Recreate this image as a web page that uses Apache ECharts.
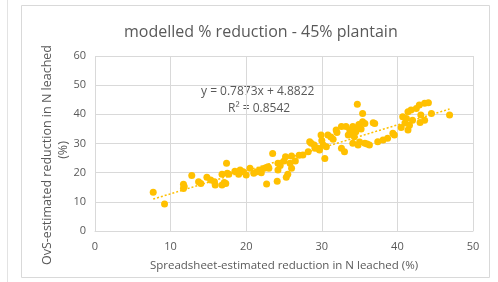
<!DOCTYPE html>
<html>
<head>
<meta charset="utf-8">
<script src="https://cdn.jsdelivr.net/npm/echarts@6/dist/echarts.min.js"></script>
<style>
  html, body { margin: 0; padding: 0; background: #fff; }
  #chart { width: 498px; height: 282px; }
</style>
</head>
<body>
<div id="chart"></div>
<script>
// spreadsheet-estimated reduction (x) vs OvS-estimated reduction (y), %
var spreadX = [7.7, 9.2, 11.7, 11.7, 11.8, 12.8, 13.7, 14.0, 14.8, 15.3, 15.8, 15.9, 16.8, 17.1, 16.8, 17.4, 17.7, 17.5, 17.3,
  19.2, 19.6, 20.0, 20.5, 21.4, 21.8, 22.4, 22.7, 22.9, 23.5, 24.2, 24.2, 24.1, 25.3, 25.2, 26.0, 25.8, 26.0,
  27.5, 28.2, 28.6, 29.1, 29.7, 29.9, 30.2, 28.4, 30.4, 30.6, 30.8, 29.5, 31.9, 32.6, 33.2, 33.7, 34.1, 34.6,
  33.5, 34.3, 34.1, 32.6, 33.0, 34.7, 35.4, 35.7, 37.0, 35.4, 36.8, 35.7, 36.3, 37.4, 38.1, 38.7, 39.4, 39.6,
  40.7, 41.4, 41.8, 41.2, 42.0, 41.6, 41.4, 42.9, 43.6, 43.1, 43.6, 44.5, 46.9, 44.1,
  34.8, 35.0, 36.0, 34.5, 33.8, 35.2, 34.9, 32.0, 31.2, 27.0, 26.5, 19.0, 18.5, 21.0, 22.0, 23.0, 24.5, 25.5,
  25.0, 29.0, 30.0, 31.5, 42.5, 43.0, 41.0, 40.5];
var ovsY = [13.3, 9.3, 14.6, 16.0, 15.3, 19.0, 16.9, 16.3, 18.4, 17.5, 16.9, 15.8, 15.8, 16.6, 19.5, 23.2, 19.5, 19.8, 16.3,
  20.9, 20.3, 19.2, 21.5, 20.3, 20.9, 21.5, 16.1, 22.0, 26.6, 23.2, 20.9, 17.1, 18.4, 25.5, 25.7, 23.2, 21.5,
  26.1, 27.2, 30.1, 28.4, 27.8, 32.9, 29.5, 30.6, 24.9, 28.9, 32.9, 28.4, 34.6, 35.8, 35.8, 34.6, 35.8, 35.2,
  32.9, 32.3, 30.1, 28.4, 27.2, 43.5, 40.3, 36.9, 36.9, 37.5, 37.1, 30.1, 29.5, 30.6, 31.2, 31.8, 33.5, 32.9,
  39.2, 40.9, 41.5, 38.6, 38.0, 36.3, 34.6, 43.2, 43.8, 39.8, 38.0, 40.3, 39.8, 44.0,
  29.5, 30.5, 29.8, 34.0, 33.5, 35.0, 36.5, 33.8, 32.2, 26.0, 24.0, 19.5, 20.5, 19.8, 20.0, 21.5, 22.5, 19.5,
  24.0, 29.5, 31.0, 31.5, 42.0, 37.2, 37.0, 35.5];
var xTicks = [0, 10, 20, 30, 40, 50];
var yTicks = [0, 10, 20, 30, 40, 50, 60];
var slope = 0.7873, intercept = 4.8822, rSquared = 0.8542;

var points = spreadX.map(function (x, i) { return [x, ovsY[i]]; });
var xMin = Math.min.apply(null, spreadX), xMax = Math.max.apply(null, spreadX);
var trend = [[xMin, slope * xMin + intercept], [xMax, slope * xMax + intercept]];

var grey = '#595959', gridCol = '#d9d9d9', gold = '#FFC000';
var font = '"Open Sans", sans-serif';

var chart = echarts.init(document.getElementById('chart'));
chart.setOption({
  animation: false,
  title: {
    text: 'modelled % reduction - 45% plantain',
    left: 119, top: 19,
    textStyle: { fontFamily: font, fontSize: 16, fontWeight: 'normal', color: grey }
  },
  grid: { left: 95, right: 25, top: 56, bottom: 51 },
  xAxis: {
    type: 'value', min: xTicks[0], max: xTicks[xTicks.length - 1], interval: 10,
    name: 'Spreadsheet-estimated reduction in N leached (%)',
    nameLocation: 'middle', nameGap: 29,
    nameTextStyle: { fontFamily: font, fontSize: 11.5, color: grey },
    axisLine: { lineStyle: { color: gridCol } },
    axisTick: { show: false },
    axisLabel: { fontFamily: font, fontSize: 11, color: grey, margin: 10 },
    splitLine: { lineStyle: { color: gridCol } }
  },
  yAxis: {
    type: 'value', min: yTicks[0], max: yTicks[yTicks.length - 1], interval: 10,
    axisLine: { show: false },
    axisTick: { show: false },
    axisLabel: { fontFamily: font, fontSize: 11, color: grey, margin: 9 },
    splitLine: { lineStyle: { color: gridCol } }
  },
  graphic: [
    { type: 'rect', shape: { x: 21.5, y: 5.5, width: 468, height: 272 }, style: { fill: 'none', stroke: gridCol, lineWidth: 1 }, z: -1 },
    { type: 'line', shape: { x1: 7.5, y1: 0, x2: 7.5, y2: 282 }, style: { stroke: '#e3e3e3', lineWidth: 1 } },
    { type: 'text', x: 47, y: 155, rotation: Math.PI / 2,
      style: { text: 'OvS-estimated reduction in N leached', font: '12.5px ' + font, fill: grey, align: 'center', verticalAlign: 'middle' } },
    { type: 'text', x: 63, y: 150, rotation: Math.PI / 2,
      style: { text: '(%)', font: '12.5px ' + font, fill: grey, align: 'center', verticalAlign: 'middle' } },
    { type: 'text', left: 201, top: 86, style: { text: 'y = ' + slope + 'x + ' + intercept, font: '12px ' + font, fill: grey } },
    { type: 'text', left: 228, top: 103, style: { text: 'R\u00b2 = ' + rSquared, font: '12px ' + font, fill: grey } }
  ],
  series: [
    {
      type: 'scatter', data: points, symbolSize: 7,
      itemStyle: { color: gold, opacity: 1 }
    },
    {
      type: 'line', data: trend, symbol: 'none', silent: true,
      lineStyle: { color: gold, width: 1.5, type: [2, 2] }
    }
  ]
});
</script>
</body>
</html>
